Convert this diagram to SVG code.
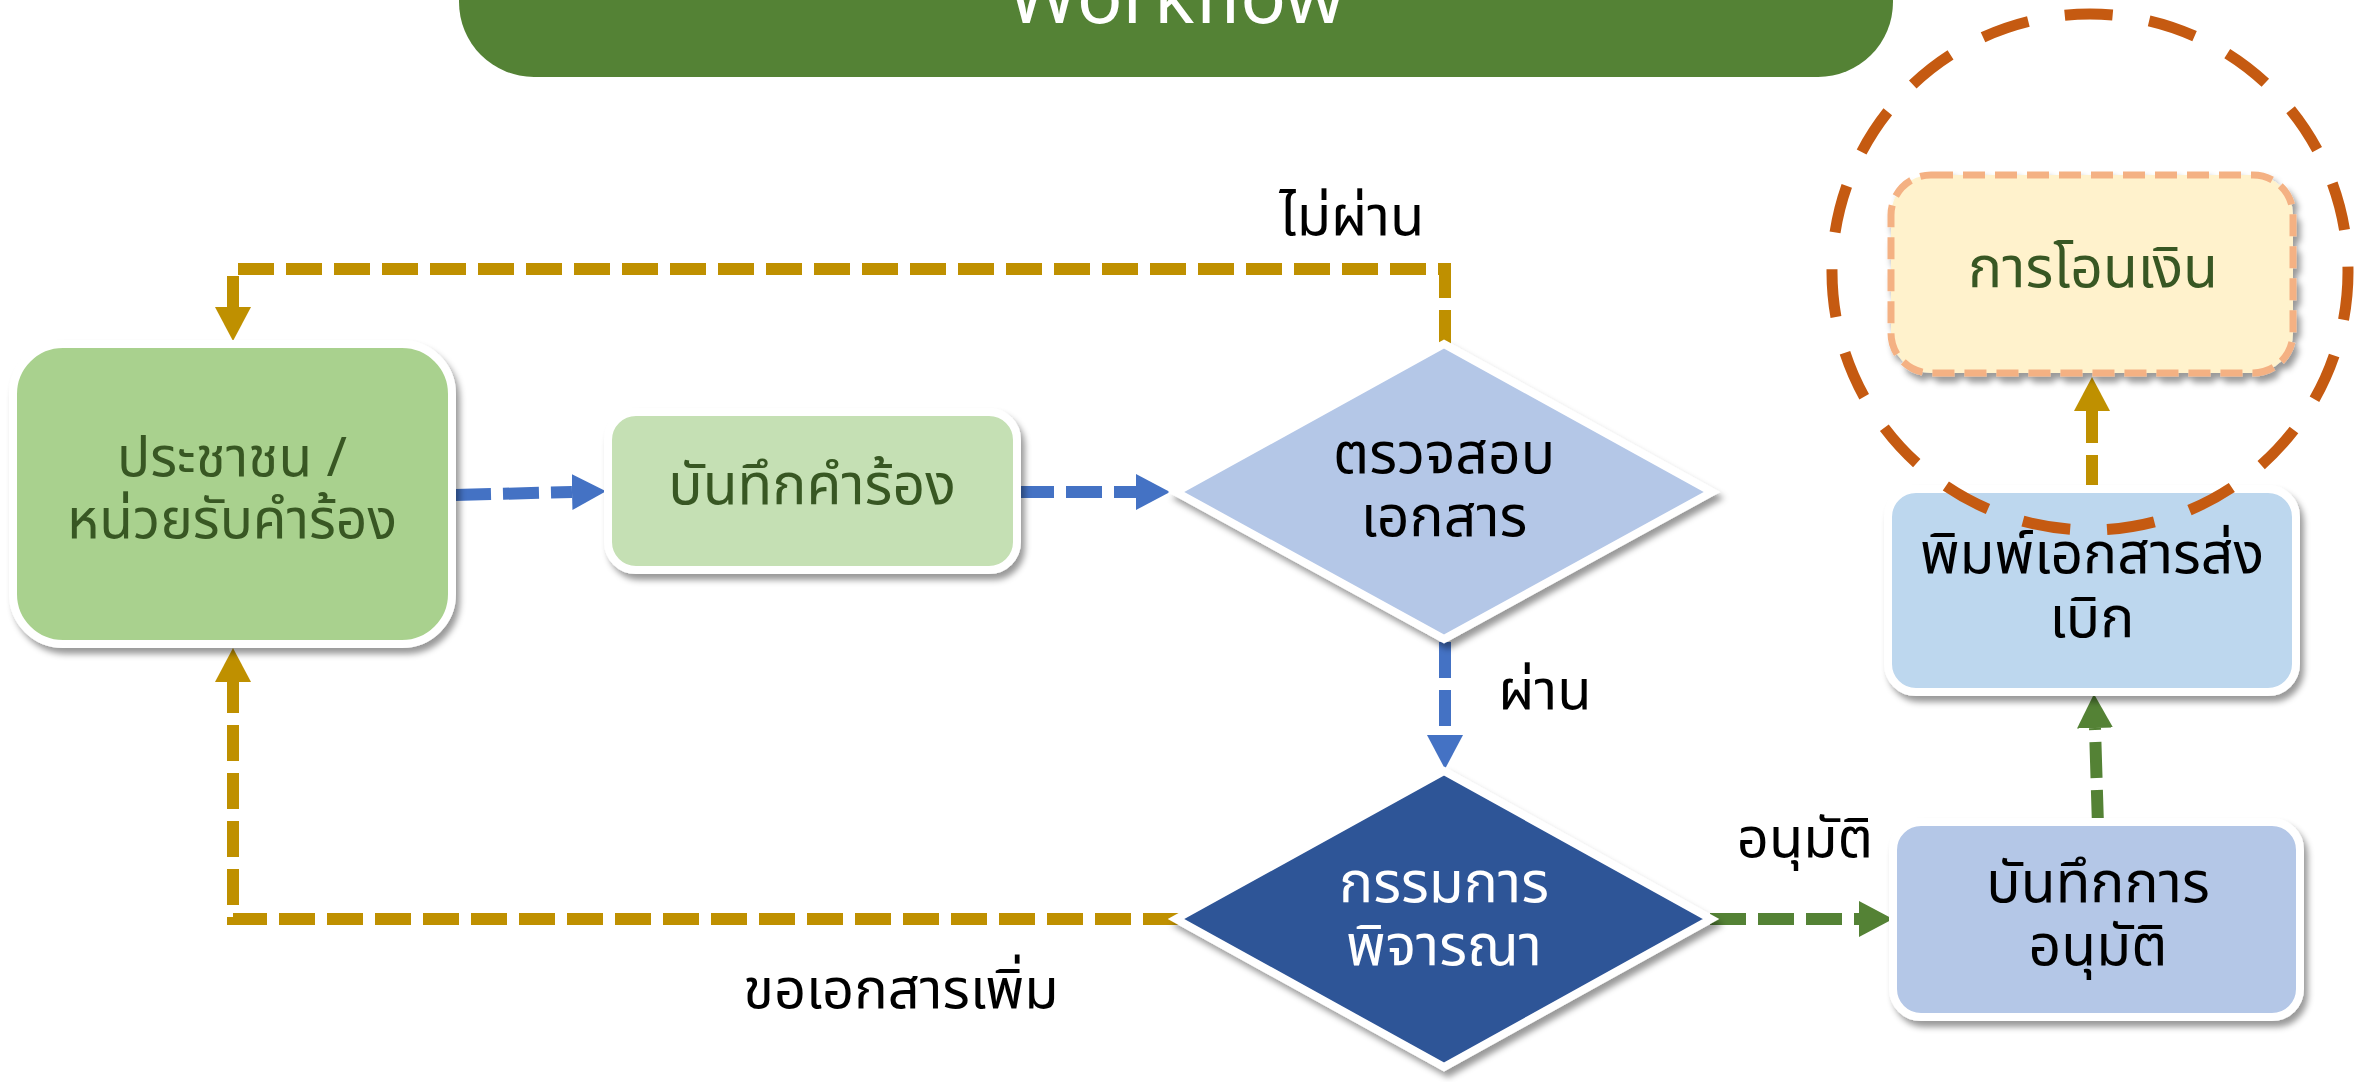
<svg xmlns="http://www.w3.org/2000/svg" width="2367" height="1082" viewBox="0 0 2367 1082">
<defs>
<style>
.t{font-family:"Noto Sans Thai","Noto Sans","Liberation Sans",sans-serif;font-size:57px;text-anchor:middle}
.s{font-size:55px}
.l{font-size:56px}
.g{fill:#385723}
.k{fill:#000}
.w{fill:#fff}
.node{stroke:#fff;stroke-width:8;filter:url(#sh)}
.c{fill:none;stroke-width:12;stroke-dasharray:36 12}
</style>
<filter id="sh" x="-10%" y="-10%" width="125%" height="130%">
<feDropShadow dx="4" dy="6" stdDeviation="3" flood-color="#000" flood-opacity="0.4"/>
</filter>
<marker id="ab" markerUnits="userSpaceOnUse" markerWidth="34" markerHeight="36" viewBox="0 0 34 36" refX="0" refY="18" orient="auto"><path d="M0,0 L34,18 L0,36 z" fill="#4472C4"/></marker>
<marker id="ag" markerUnits="userSpaceOnUse" markerWidth="34" markerHeight="36" viewBox="0 0 34 36" refX="0" refY="18" orient="auto"><path d="M0,0 L34,18 L0,36 z" fill="#BF9000"/></marker>
<marker id="an" markerUnits="userSpaceOnUse" markerWidth="34" markerHeight="36" viewBox="0 0 34 36" refX="0" refY="18" orient="auto"><path d="M0,0 L34,18 L0,36 z" fill="#548235"/></marker>
</defs>
<rect width="2367" height="1082" fill="#fff"/>

<g id="title">
<rect x="459" y="-80" width="1434" height="157" rx="75" fill="#548235"/>
<text x="1176" y="23" font-family="Noto Sans, Liberation Sans, sans-serif" font-size="76" fill="#fff" text-anchor="middle">Workflow</text>
</g>

<g id="connectors">
<path class="c" stroke="#4472C4" d="M455,495 L572,492" marker-end="url(#ab)"/>
<path class="c" stroke="#4472C4" d="M1018,492 L1136,492" marker-end="url(#ab)"/>
<path class="c" stroke="#4472C4" d="M1445,642 L1445,735" marker-end="url(#ab)"/>
<path class="c" stroke="#BF9000" d="M1445,346 V269 H233 V307" marker-end="url(#ag)"/>
<path class="c" stroke="#BF9000" d="M1179,919 H233 V682" marker-end="url(#ag)"/>
<path class="c" stroke="#548235" d="M1710,919 H1859" marker-end="url(#an)"/>
<path class="c" stroke="#548235" d="M2098,826 L2095,728" marker-end="url(#an)"/>
<path class="c" stroke="#BF9000" d="M2092,491 V411" marker-end="url(#ag)"/>
</g>

<g id="n1">
<rect class="node" x="13" y="344" width="439" height="300" rx="50" fill="#A9D18E"/>
<text class="t s g" x="232" y="476">ประชาชน /</text>
<text class="t s g" x="232" y="538">หน่วยรับคำร้อง</text>
</g>

<g id="n2">
<rect class="node" x="608" y="412" width="409" height="158" rx="28" fill="#C5E0B4"/>
<text class="t g" x="812" y="504">บันทึกคำร้อง</text>
</g>

<g id="n3">
<polygon class="node" points="1444,344 1712,492 1444,639 1176,492" fill="#B4C7E7"/>
<text class="t k" x="1444" y="473">ตรวจสอบ</text>
<text class="t k" x="1444" y="536">เอกสาร</text>
</g>

<g id="n4">
<polygon class="node" points="1444,771 1711,919 1444,1067 1176,919" fill="#2F5597"/>
<text class="t w" x="1444" y="902">กรรมการ</text>
<text class="t w" x="1444" y="965">พิจารณา</text>
</g>

<g id="n5">
<rect class="node" x="1893" y="822" width="407" height="195" rx="28" fill="#B4C7E7"/>
<text class="t k" x="2098" y="902">บันทึกการ</text>
<text class="t k" x="2098" y="965">อนุมัติ</text>
</g>

<g id="n6">
<rect class="node" x="1888" y="489" width="408" height="203" rx="28" fill="#BDD7EE"/>
<text class="t k" x="2092" y="573">พิมพ์เอกสารส่ง</text>
<text class="t k" x="2092" y="637">เบิก</text>
</g>

<g id="n7">
<rect x="1891" y="175" width="402" height="198" rx="40" fill="#FFF2CC" stroke="#F4B183" stroke-width="7" stroke-dasharray="22 10" filter="url(#sh)"/>
<text class="t g" x="2093" y="287">การโอนเงิน</text>
</g>

<g id="highlight">
<circle cx="2090" cy="272" r="258" fill="none" stroke="#C55A11" stroke-width="11" stroke-dasharray="48 37"/>
</g>

<g id="labels">
<text class="t l k" x="1352" y="235">ไม่ผ่าน</text>
<text class="t l k" x="1545" y="709">ผ่าน</text>
<text class="t l k" x="1805" y="857">อนุมัติ</text>
<text class="t l k" x="901" y="1008">ขอเอกสารเพิ่ม</text>
</g>
</svg>
